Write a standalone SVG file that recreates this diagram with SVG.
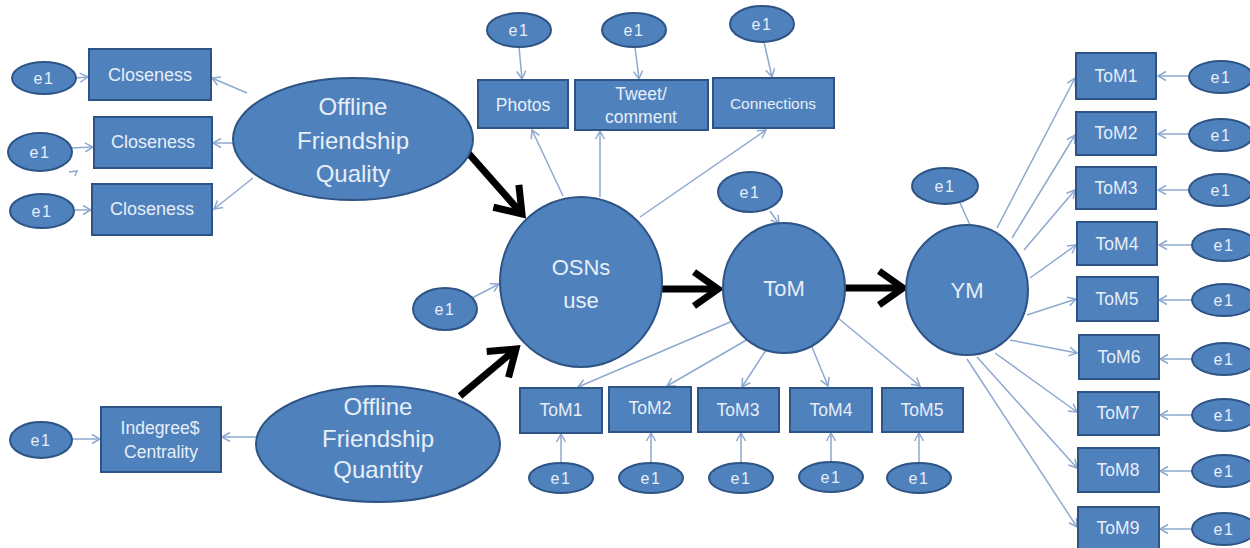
<svg xmlns="http://www.w3.org/2000/svg" width="1250" height="548" viewBox="0 0 1250 548">
<style>
.n{fill:#4f81bd;stroke:#2e5485;stroke-width:2}
.t{font-family:"Liberation Sans",Arial,sans-serif;fill:#e6eef8;text-anchor:middle;dominant-baseline:central}
.c{stroke:#8ea9cf;stroke-width:1.5;fill:none;marker-end:url(#a)}
.k{stroke:#000;stroke-width:7;fill:none;marker-end:url(#b)}
.e{font-size:16px;letter-spacing:1.5px}
.s{font-size:18px}
.m{font-size:17.5px}
.b{font-size:24px}
.x{font-size:22px}
</style>
<defs>
<marker id="a" markerWidth="12" markerHeight="12" refX="10" refY="6" orient="auto" markerUnits="userSpaceOnUse"><path d="M2,1.5 L10,6 L2,10.5" fill="none" stroke="#8ea9cf" stroke-width="1.5"/></marker>
<marker id="b" markerWidth="40" markerHeight="40" refX="31" refY="20" orient="auto" markerUnits="userSpaceOnUse"><path d="M7,3 L31,20 L7,37" fill="none" stroke="#000" stroke-width="7"/></marker>
</defs>
<rect width="1250" height="548" fill="#fff"/>
<g id="connectors">
<line class="c" x1="76" y1="78" x2="88" y2="77"/>
<line class="c" x1="72" y1="148" x2="93" y2="147"/>
<line class="c" x1="75" y1="210" x2="91" y2="210"/>
<line class="c" x1="247" y1="93" x2="212" y2="78"/>
<line class="c" x1="234" y1="143" x2="213" y2="143"/>
<line class="c" x1="253" y1="178" x2="214" y2="209"/>
<path class="c" d="M69,172 L77,171 L75,176" style="marker-end:none"/>
<line class="c" x1="519" y1="47" x2="522" y2="79"/>
<line class="c" x1="635" y1="47" x2="639" y2="79"/>
<line class="c" x1="764" y1="42" x2="772" y2="77"/>
<line class="c" x1="563" y1="196" x2="532" y2="130"/>
<line class="c" x1="600" y1="197" x2="600" y2="131"/>
<line class="c" x1="640" y1="217" x2="766" y2="130"/>
<line class="c" x1="472" y1="298" x2="499" y2="284"/>
<line class="c" x1="770" y1="211" x2="779" y2="224"/>
<line class="c" x1="735" y1="320" x2="578" y2="387"/>
<line class="c" x1="750" y1="338" x2="667" y2="386"/>
<line class="c" x1="766" y1="350" x2="742" y2="387"/>
<line class="c" x1="812" y1="347" x2="828" y2="386"/>
<line class="c" x1="838" y1="318" x2="920" y2="386"/>
<line class="c" x1="561" y1="463" x2="561" y2="434"/>
<line class="c" x1="651" y1="463" x2="651" y2="433"/>
<line class="c" x1="741" y1="463" x2="741" y2="433"/>
<line class="c" x1="831" y1="463" x2="831" y2="433"/>
<line class="c" x1="919" y1="463" x2="919" y2="433"/>
<line class="c" x1="72" y1="439" x2="100" y2="439"/>
<line class="c" x1="257" y1="437" x2="222" y2="437"/>
<line class="c" x1="960" y1="203" x2="970" y2="225" style="marker-end:none"/>
<line class="c" x1="997" y1="228" x2="1075" y2="78"/>
<line class="c" x1="1012" y1="238" x2="1075" y2="135"/>
<line class="c" x1="1024" y1="250" x2="1075" y2="190"/>
<line class="c" x1="1030" y1="278" x2="1076" y2="245"/>
<line class="c" x1="1027" y1="315" x2="1076" y2="299"/>
<line class="c" x1="1010" y1="340" x2="1077" y2="353"/>
<line class="c" x1="995" y1="353" x2="1077" y2="412"/>
<line class="c" x1="977" y1="357" x2="1077" y2="468"/>
<line class="c" x1="967" y1="359" x2="1077" y2="527"/>
<line class="c" x1="1189" y1="76" x2="1158" y2="76"/>
<line class="c" x1="1189" y1="134" x2="1158" y2="134"/>
<line class="c" x1="1189" y1="190" x2="1158" y2="190"/>
<line class="c" x1="1191" y1="245" x2="1159" y2="245"/>
<line class="c" x1="1191" y1="300" x2="1159" y2="300"/>
<line class="c" x1="1191" y1="359" x2="1160" y2="359"/>
<line class="c" x1="1191" y1="415" x2="1160" y2="415"/>
<line class="c" x1="1191" y1="471" x2="1160" y2="471"/>
<line class="c" x1="1191" y1="529" x2="1160" y2="529"/>
<line class="k" x1="462" y1="146" x2="522" y2="214"/>
<line class="k" x1="660" y1="289" x2="718" y2="289"/>
<line class="k" x1="845" y1="288" x2="903" y2="288"/>
<line class="k" x1="460" y1="396" x2="516" y2="349"/>
</g>
<g id="e1-c1"><ellipse class="n" cx="44" cy="78" rx="32" ry="16"/><text class="t e" x="44" y="78">e1</text></g>
<g id="e1-c2"><ellipse class="n" cx="40" cy="152" rx="32" ry="19"/><text class="t e" x="40" y="152">e1</text></g>
<g id="e1-c3"><ellipse class="n" cx="42" cy="211" rx="32" ry="17"/><text class="t e" x="42" y="211">e1</text></g>
<g id="closeness1"><rect class="n" x="89" y="49" width="122" height="51"/><text class="t s" x="150" y="75">Closeness</text></g>
<g id="closeness2"><rect class="n" x="94" y="117" width="118" height="51"/><text class="t s" x="153" y="142">Closeness</text></g>
<g id="closeness3"><rect class="n" x="92" y="184" width="120" height="51"/><text class="t s" x="152" y="209">Closeness</text></g>
<g id="ofq"><ellipse class="n" cx="353" cy="139" rx="120" ry="61"/><text class="t b" x="353" y="106">Offline</text><text class="t b" x="353" y="140">Friendship</text><text class="t b" x="353" y="173">Quality</text></g>
<g id="e1-photos"><ellipse class="n" cx="519" cy="30" rx="32" ry="17"/><text class="t e" x="519" y="30">e1</text></g>
<g id="e1-tweet"><ellipse class="n" cx="634" cy="30" rx="32" ry="17"/><text class="t e" x="634" y="30">e1</text></g>
<g id="e1-conn"><ellipse class="n" cx="762" cy="24" rx="32" ry="18"/><text class="t e" x="762" y="24">e1</text></g>
<g id="photos"><rect class="n" x="478" y="80" width="90" height="48"/><text class="t m" x="523" y="105">Photos</text></g>
<g id="tweet"><rect class="n" x="575" y="80" width="133" height="50"/><text class="t m" x="641" y="94">Tweet/</text><text class="t m" x="641" y="117">comment</text></g>
<g id="connections"><rect class="n" x="713" y="78" width="121" height="50"/><text class="t" x="773" y="103" style="font-size:15.5px">Connections</text></g>
<g id="osns"><ellipse class="n" cx="581" cy="282" rx="81" ry="85"/><text class="t x" x="581" y="267">OSNs</text><text class="t x" x="581" y="300">use</text></g>
<g id="e1-osns"><ellipse class="n" cx="445" cy="309" rx="32" ry="21"/><text class="t e" x="445" y="309">e1</text></g>
<g id="tom"><ellipse class="n" cx="784" cy="288" rx="61" ry="65"/><text class="t x" x="784" y="288">ToM</text></g>
<g id="e1-tom"><ellipse class="n" cx="750" cy="192" rx="32" ry="20"/><text class="t e" x="750" y="192">e1</text></g>
<g id="ym"><ellipse class="n" cx="967" cy="290" rx="61" ry="65"/><text class="t x" x="967" y="290">YM</text></g>
<g id="e1-ym"><ellipse class="n" cx="945" cy="186" rx="33" ry="18"/><text class="t e" x="945" y="186">e1</text></g>
<g id="b-tom1"><rect class="n" x="520" y="388" width="82" height="45"/><text class="t m" x="561" y="410">ToM1</text></g>
<g id="b-tom2"><rect class="n" x="609" y="387" width="82" height="45"/><text class="t m" x="650" y="408">ToM2</text></g>
<g id="b-tom3"><rect class="n" x="698" y="388" width="81" height="44"/><text class="t m" x="738" y="410">ToM3</text></g>
<g id="b-tom4"><rect class="n" x="790" y="388" width="82" height="44"/><text class="t m" x="831" y="410">ToM4</text></g>
<g id="b-tom5"><rect class="n" x="882" y="388" width="81" height="44"/><text class="t m" x="922" y="410">ToM5</text></g>
<g id="b-e1-1"><ellipse class="n" cx="561" cy="478" rx="32" ry="15"/><text class="t e" x="561" y="478">e1</text></g>
<g id="b-e1-2"><ellipse class="n" cx="651" cy="478" rx="32" ry="15"/><text class="t e" x="651" y="478">e1</text></g>
<g id="b-e1-3"><ellipse class="n" cx="741" cy="478" rx="32" ry="15"/><text class="t e" x="741" y="478">e1</text></g>
<g id="b-e1-4"><ellipse class="n" cx="831" cy="477" rx="32" ry="15"/><text class="t e" x="831" y="477">e1</text></g>
<g id="b-e1-5"><ellipse class="n" cx="919" cy="478" rx="32" ry="15"/><text class="t e" x="919" y="478">e1</text></g>
<g id="e1-indeg"><ellipse class="n" cx="41" cy="440" rx="31" ry="18"/><text class="t e" x="41" y="440">e1</text></g>
<g id="indegree"><rect class="n" x="101" y="407" width="120" height="65"/><text class="t m" x="160" y="428">Indegree$</text><text class="t m" x="161" y="452">Centrality</text></g>
<g id="ofqn"><ellipse class="n" cx="378" cy="444" rx="122" ry="58"/><text class="t b" x="378" y="406">Offline</text><text class="t b" x="378" y="438">Friendship</text><text class="t b" x="378" y="469">Quantity</text></g>
<g id="r-tom1"><rect class="n" x="1076" y="53" width="80" height="46"/><text class="t m" x="1116" y="76">ToM1</text></g>
<g id="r-tom2"><rect class="n" x="1076" y="112" width="80" height="43"/><text class="t m" x="1116" y="133">ToM2</text></g>
<g id="r-tom3"><rect class="n" x="1076" y="167" width="80" height="42"/><text class="t m" x="1116" y="188">ToM3</text></g>
<g id="r-tom4"><rect class="n" x="1077" y="222" width="80" height="43"/><text class="t m" x="1117" y="244">ToM4</text></g>
<g id="r-tom5"><rect class="n" x="1077" y="277" width="81" height="44"/><text class="t m" x="1117" y="299">ToM5</text></g>
<g id="r-tom6"><rect class="n" x="1079" y="335" width="80" height="44"/><text class="t m" x="1119" y="357">ToM6</text></g>
<g id="r-tom7"><rect class="n" x="1078" y="392" width="81" height="43"/><text class="t m" x="1118" y="413">ToM7</text></g>
<g id="r-tom8"><rect class="n" x="1078" y="448" width="81" height="44"/><text class="t m" x="1118" y="470">ToM8</text></g>
<g id="r-tom9"><rect class="n" x="1078" y="507" width="81" height="44"/><text class="t m" x="1118" y="528">ToM9</text></g>
<g id="r-e1-1"><ellipse class="n" cx="1221" cy="77" rx="32" ry="16"/><text class="t e" x="1221" y="77">e1</text></g>
<g id="r-e1-2"><ellipse class="n" cx="1221" cy="135" rx="32" ry="16"/><text class="t e" x="1221" y="135">e1</text></g>
<g id="r-e1-3"><ellipse class="n" cx="1221" cy="190" rx="32" ry="16"/><text class="t e" x="1221" y="190">e1</text></g>
<g id="r-e1-4"><ellipse class="n" cx="1224" cy="245" rx="32" ry="16"/><text class="t e" x="1224" y="245">e1</text></g>
<g id="r-e1-5"><ellipse class="n" cx="1224" cy="300" rx="32" ry="16"/><text class="t e" x="1224" y="300">e1</text></g>
<g id="r-e1-6"><ellipse class="n" cx="1224" cy="359" rx="32" ry="16"/><text class="t e" x="1224" y="359">e1</text></g>
<g id="r-e1-7"><ellipse class="n" cx="1224" cy="415" rx="32" ry="16"/><text class="t e" x="1224" y="415">e1</text></g>
<g id="r-e1-8"><ellipse class="n" cx="1224" cy="471" rx="32" ry="16"/><text class="t e" x="1224" y="471">e1</text></g>
<g id="r-e1-9"><ellipse class="n" cx="1224" cy="529" rx="32" ry="16"/><text class="t e" x="1224" y="529">e1</text></g>
</svg>
